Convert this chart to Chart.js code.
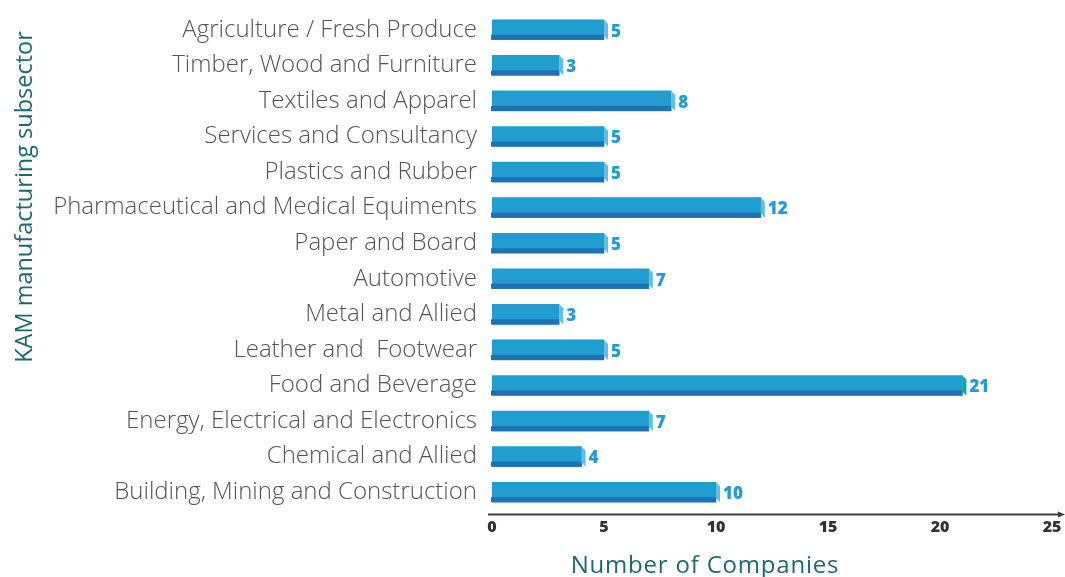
<!DOCTYPE html>
<html lang="en">
<head>
<meta charset="UTF-8">
<title>KAM manufacturing subsector</title>
<script src="https://cdn.jsdelivr.net/npm/chart.js@4.4.0/dist/chart.umd.min.js"></script>
<style>
    html, body { margin: 0; padding: 0; background: #fff; }
    .chart-container { width: 1065px; height: 577px; position: relative; }
</style>
</head>
<body>
<div class="chart-container">
    <canvas id="kamChart"></canvas>
</div>
<script>
// Data
const subsectors = [
    'Agriculture / Fresh Produce',
    'Timber, Wood and Furniture',
    'Textiles and Apparel',
    'Services and Consultancy',
    'Plastics and Rubber',
    'Pharmaceutical and Medical Equiments',
    'Paper and Board',
    'Automotive',
    'Metal and Allied',
    'Leather and  Footwear',
    'Food and Beverage',
    'Energy, Electrical and Electronics',
    'Chemical and Allied',
    'Building, Mining and Construction'
];
const companyCounts = [5, 3, 8, 5, 5, 12, 5, 7, 3, 5, 21, 7, 4, 10];
const xTicks = [0, 5, 10, 15, 20, 25];

const FONT = "'Open Sans', sans-serif";
const TEAL = '#1b6a72';

// 3D bar faces, value labels and the arrowed axis
const barDecor = {
    id: 'barDecor',
    afterDatasetsDraw(chart) {
        const ctx = chart.ctx;
        const meta = chart.getDatasetMeta(0);
        const maxVal = Math.max(...companyCounts);
        ctx.save();
        meta.data.forEach((bar, i) => {
            const h = bar.height;
            const top = bar.y - h / 2;
            const bottom = bar.y + h / 2;
            // darker lower face
            ctx.fillStyle = '#1f70b7';
            ctx.fillRect(bar.base - 1, bottom - 5, bar.x - bar.base + 1, 5);
            // end cap
            ctx.fillStyle = companyCounts[i] === maxVal ? '#00ae98' : '#5cc0ea';
            ctx.beginPath();
            ctx.moveTo(bar.x, top);
            ctx.lineTo(bar.x + 4, top + 4);
            ctx.lineTo(bar.x + 4, bottom);
            ctx.lineTo(bar.x, bottom - 4);
            ctx.closePath();
            ctx.fill();
            // value label
            ctx.fillStyle = '#229dd3';
            ctx.font = "800 17px " + FONT;
            ctx.textAlign = 'left';
            ctx.textBaseline = 'middle';
            ctx.fillText(String(companyCounts[i]), bar.x + 7, bar.y + 2);
        });

        // x axis line with arrow
        const area = chart.chartArea;
        const ay = area.bottom + 4.5;
        ctx.strokeStyle = '#3d3d3d';
        ctx.lineWidth = 2;
        ctx.beginPath();
        ctx.moveTo(area.left - 4, ay);
        ctx.lineTo(area.right + 10, ay);
        ctx.stroke();
        ctx.fillStyle = '#3d3d3d';
        ctx.beginPath();
        ctx.moveTo(area.right + 13, ay);
        ctx.lineTo(area.right + 6, ay - 3);
        ctx.lineTo(area.right + 6, ay + 3);
        ctx.closePath();
        ctx.fill();

        // axis titles
        ctx.fillStyle = TEAL;
        ctx.textAlign = 'center';
        ctx.textBaseline = 'middle';
        ctx.font = "24px " + FONT;
        ctx.letterSpacing = '0.8px';
        ctx.fillText('Number of Companies', 705, 566);
        ctx.font = "23.5px " + FONT;
        ctx.letterSpacing = '0px';
        ctx.translate(25, 197);
        ctx.rotate(-Math.PI / 2);
        ctx.fillText('KAM manufacturing subsector', 0, 0);
        ctx.restore();
    }
};

new Chart(document.getElementById('kamChart'), {
    type: 'bar',
    data: {
        labels: subsectors,
        datasets: [{
            data: companyCounts,
            backgroundColor: '#219ecf',
            barThickness: 20,
            borderWidth: 0
        }]
    },
    options: {
        indexAxis: 'y',
        responsive: true,
        maintainAspectRatio: false,
        animation: false,
        layout: { padding: { top: 12, right: 13, left: 0, bottom: 0 } },
        plugins: {
            legend: { display: false },
            tooltip: { enabled: false }
        },
        scales: {
            x: {
                min: 0,
                max: 25,
                afterBuildTicks: (scale) => { scale.ticks = xTicks.map(v => ({ value: v })); },
                afterFit: (scale) => { scale.height = 67; scale.paddingLeft = 0; scale.paddingRight = 0; },
                grid: { display: false, drawTicks: false },
                border: { display: false },
                ticks: {
                    padding: 8,
                    color: '#333',
                    font: { family: FONT, size: 16, weight: '800' }
                }
            },
            y: {
                afterFit: (scale) => { scale.width = 492; scale.paddingTop = 0; scale.paddingBottom = 0; },
                grid: { display: false, drawTicks: false },
                border: { display: false },
                ticks: {
                    padding: 15,
                    color: '#555',
                    font: { family: FONT, size: 24, weight: '300' }
                }
            }
        }
    },
    plugins: [barDecor]
});
</script>
</body>
</html>
